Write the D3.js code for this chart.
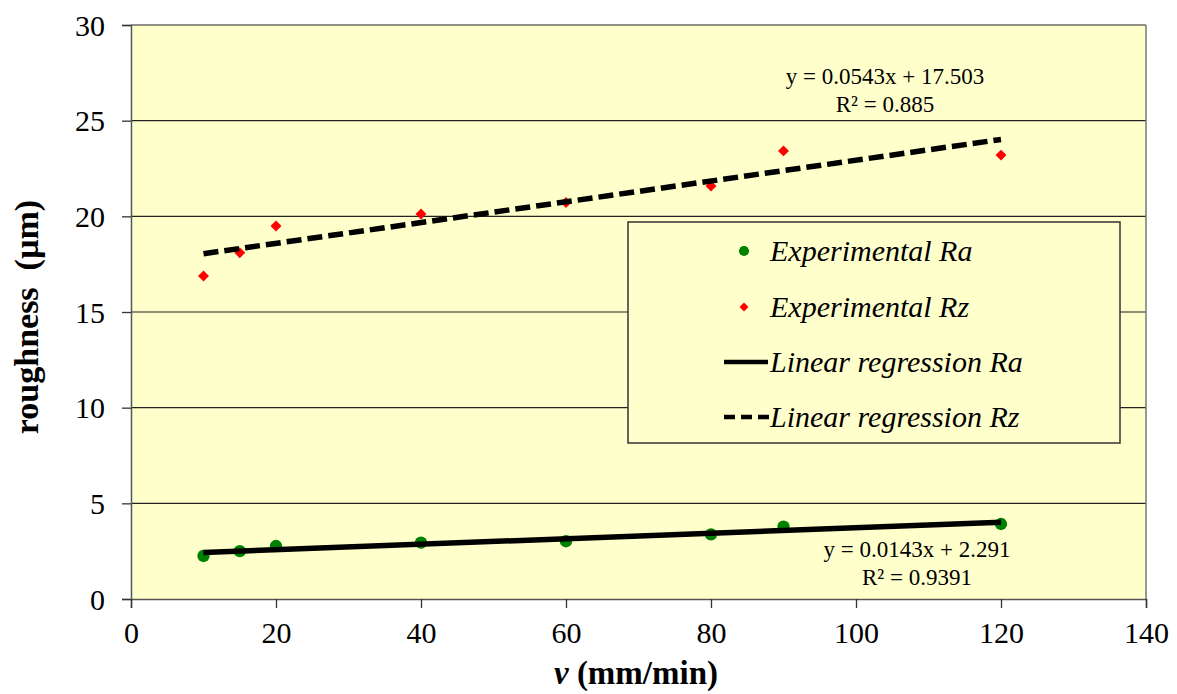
<!DOCTYPE html>
<html>
<head>
<meta charset="utf-8">
<script src="https://cdn.jsdelivr.net/npm/d3@7"></script>
<style>
  body { margin: 0; background: #fff; }
  svg text { font-family: 'Liberation Serif', 'Times New Roman', serif; }
</style>
</head>
<body>
<svg id="chart" width="1177" height="694"></svg>
<script>
// cutting speed v (mm/min)
var speeds = [10, 15, 20, 40, 60, 80, 90, 120]
// measured roughness (µm)
var raValues = [2.25, 2.5, 2.77, 2.95, 3.02, 3.38, 3.78, 3.92]
var rzValues = [16.88, 18.1, 19.5, 20.12, 20.72, 21.58, 23.42, 23.2]
// trendline coefficients [slope, intercept]
var raFit = [0.0143, 2.291]
var rzFit = [0.0543, 17.503]
var raLabel = ['y = 0.0143x + 2.291', 'R\u00b2 = 0.9391']
var rzLabel = ['y = 0.0543x + 17.503', 'R\u00b2 = 0.885']
var xTicks = [0, 20, 40, 60, 80, 100, 120, 140]
var yTicks = [0, 5, 10, 15, 20, 25, 30]
var legendLabels = ['Experimental Ra', 'Experimental Rz', 'Linear regression Ra', 'Linear regression Rz']

var margin = { left: 131, top: 25, right: 31, bottom: 95 }
var svg = d3.select('#chart')
var width = 1177 - margin.left - margin.right
var height = 694 - margin.top - margin.bottom

var x = d3.scaleLinear().domain([0, 140]).range([0, width])
var y = d3.scaleLinear().domain([0, 30]).range([height, 0])

var g = svg.append('g').attr('transform', 'translate(' + margin.left + ',' + margin.top + ')')

// plot background
g.append('rect')
  .attr('width', width).attr('height', height)
  .attr('fill', '#ffffcc')

// horizontal gridlines
g.selectAll('line.grid')
  .data(yTicks.filter(function (d) { return d > 0 }))
  .enter().append('line')
  .attr('class', 'grid')
  .attr('x1', 0).attr('x2', width)
  .attr('y1', function (d) { return y(d) })
  .attr('y2', function (d) { return y(d) })
  .attr('stroke', '#222').attr('stroke-width', 1.2)

// right border
g.append('line')
  .attr('x1', width).attr('x2', width)
  .attr('y1', 0).attr('y2', height)
  .attr('stroke', '#777').attr('stroke-width', 1.5)

// axes
var yAxis = g.append('g')
  .call(d3.axisLeft(y).tickValues(yTicks).tickSize(9).tickPadding(17))
var xAxis = g.append('g')
  .attr('transform', 'translate(0,' + height + ')')
  .call(d3.axisBottom(x).tickValues(xTicks).tickSize(9).tickPadding(12))

;[xAxis, yAxis].forEach(function (ax) {
  ax.attr('font-family', "'Liberation Serif', serif").attr('font-size', 30)
  ax.select('.domain').attr('stroke', '#555').attr('stroke-width', 1.5)
  ax.selectAll('.tick line').attr('stroke', '#333').attr('stroke-width', 1.3)
  ax.selectAll('.tick text').attr('fill', '#000')
})
yAxis.selectAll('.tick text').attr('dy', '0.34em')
xAxis.selectAll('.tick text').attr('dy', '0.78em')

// regression lines
function fitLine (fit) {
  var x0 = d3.min(speeds)
  var x1 = d3.max(speeds)
  return [[x0, fit[0] * x0 + fit[1]], [x1, fit[0] * x1 + fit[1]]]
}
var line = d3.line()
  .x(function (d) { return x(d[0]) })
  .y(function (d) { return y(d[1]) })

// markers
var circle = d3.symbol().type(d3.symbolCircle).size(120)
var diamond = d3.symbol().type(d3.symbolSquare).size(60)

g.selectAll('path.ra')
  .data(speeds)
  .enter().append('path')
  .attr('class', 'ra')
  .attr('d', circle)
  .attr('transform', function (d, i) { return 'translate(' + x(d) + ',' + y(raValues[i]) + ')' })
  .attr('fill', '#008000')

g.selectAll('path.rz')
  .data(speeds)
  .enter().append('path')
  .attr('class', 'rz')
  .attr('d', diamond)
  .attr('transform', function (d, i) { return 'translate(' + x(d) + ',' + y(rzValues[i]) + ') rotate(45)' })
  .attr('fill', '#ff0000')

g.append('path')
  .datum(fitLine(raFit))
  .attr('d', line)
  .attr('fill', 'none').attr('stroke', '#000').attr('stroke-width', 5.5)

g.append('path')
  .datum(fitLine(rzFit))
  .attr('d', line)
  .attr('fill', 'none').attr('stroke', '#000').attr('stroke-width', 5.5)
  .attr('stroke-dasharray', '15,6')

// trendline equations
function equation (lines, cx, by) {
  var t = g.append('text')
    .attr('text-anchor', 'middle')
    .style('font-size', '23px')
    .attr('fill', '#000')
  lines.forEach(function (s, i) {
    t.append('tspan').attr('x', cx).attr('y', by + i * 28).text(s)
  })
}
equation(rzLabel, 885 - margin.left, 84 - margin.top)
equation(raLabel, 917 - margin.left, 557 - margin.top)

// legend
var lg = svg.append('g').attr('transform', 'translate(628,222)')
lg.append('rect')
  .attr('width', 492).attr('height', 221)
  .attr('fill', '#ffffcc').attr('stroke', '#333').attr('stroke-width', 1.5)

var rowY = [29, 85, 140, 195]
var items = lg.selectAll('g.item')
  .data(legendLabels)
  .enter().append('g')
  .attr('class', 'item')
  .attr('transform', function (d, i) { return 'translate(0,' + rowY[i] + ')' })

items.append('text')
  .attr('x', 142).attr('y', 10)
  .style('font-size', '30px').style('font-style', 'italic')
  .attr('fill', '#000')
  .text(function (d) { return d })

lg.append('path')
  .attr('d', d3.symbol().type(d3.symbolCircle).size(80))
  .attr('transform', 'translate(116,' + rowY[0] + ')')
  .attr('fill', '#008000')
lg.append('path')
  .attr('d', d3.symbol().type(d3.symbolSquare).size(40))
  .attr('transform', 'translate(116,' + rowY[1] + ') rotate(45)')
  .attr('fill', '#ff0000')
lg.append('line')
  .attr('x1', 96).attr('x2', 140)
  .attr('y1', rowY[2]).attr('y2', rowY[2])
  .attr('stroke', '#000').attr('stroke-width', 4.5)
lg.append('line')
  .attr('x1', 96).attr('x2', 142)
  .attr('y1', rowY[3]).attr('y2', rowY[3])
  .attr('stroke', '#000').attr('stroke-width', 4.5)
  .attr('stroke-dasharray', '11,6')

// axis titles
svg.append('text')
  .attr('transform', 'translate(38,317) rotate(-90)')
  .attr('text-anchor', 'middle')
  .style('font-size', '34px').style('font-weight', 'bold')
  .attr('fill', '#000')
  .text('roughness\u00a0\u00a0(\u00b5m)')

var xt = svg.append('text')
  .attr('x', 636).attr('y', 684)
  .attr('text-anchor', 'middle')
  .style('font-size', '33px').style('font-weight', 'bold')
  .attr('fill', '#000')
xt.append('tspan').style('font-style', 'italic').text('v')
xt.append('tspan').text(' (mm/min)')
</script>
</body>
</html>
